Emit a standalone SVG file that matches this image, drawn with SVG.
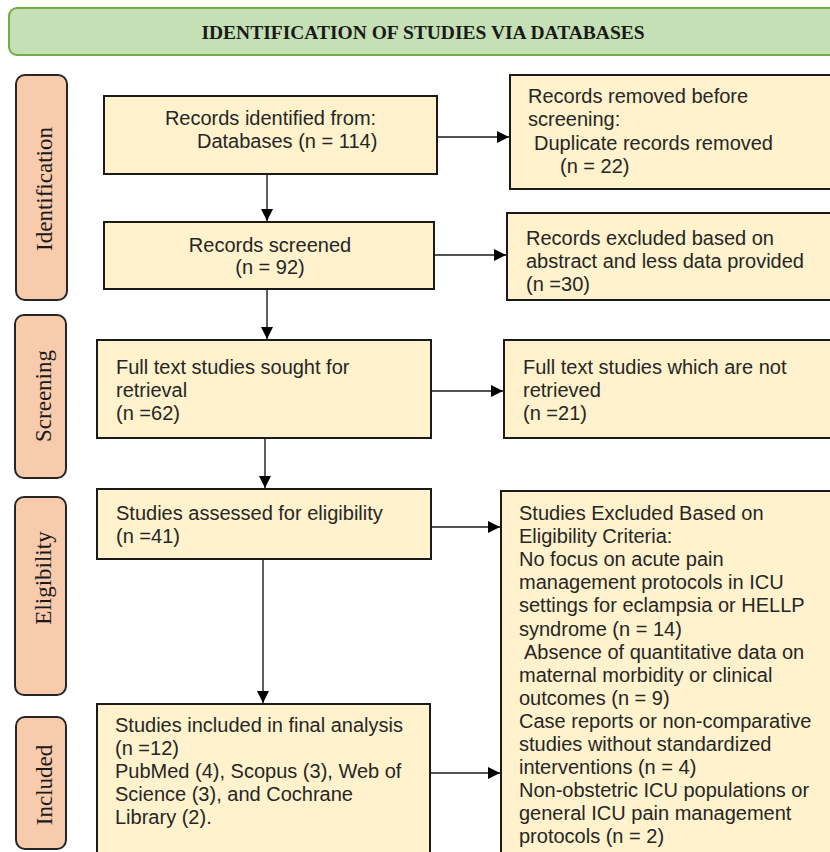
<svg xmlns="http://www.w3.org/2000/svg" width="830" height="852" viewBox="0 0 830 852">
<defs>
<marker id="ah" markerUnits="userSpaceOnUse" markerWidth="13" markerHeight="12" refX="12" refY="6" orient="auto">
<path d="M0,0 L12,6 L0,12 Z" fill="#000"/>
</marker>
<style>
.box{fill:#fff2cc;stroke:#1a1a1a;stroke-width:2}
.side{fill:#f8cbad;stroke:#262626;stroke-width:2}
.t{font-family:"Liberation Sans",Arial,sans-serif;font-size:20px;fill:#262626}
.s{font-family:"Liberation Serif","Times New Roman",serif;font-size:23px;fill:#1a1a1a;text-anchor:middle}
.c{stroke:#1a1a1a;stroke-width:1.4;fill:none;marker-end:url(#ah)}
</style>
</defs>
<rect width="830" height="852" fill="#ffffff"/>

<g id="header">
<rect x="9" y="8" width="840" height="47" rx="8" fill="#c5e0b4" stroke="#70ad47" stroke-width="2"/>
<text x="423" y="39" text-anchor="middle" font-family="Liberation Serif,'Times New Roman',serif" font-weight="bold" font-size="19.5" fill="#1a1a1a">IDENTIFICATION OF STUDIES VIA DATABASES</text>
</g>

<g id="side-identification">
<rect class="side" x="16" y="75" width="51" height="225" rx="9"/>
<text class="s" transform="translate(52,189) rotate(-90)">Identification</text>
</g>
<g id="side-screening">
<rect class="side" x="15" y="315" width="51" height="163" rx="9"/>
<text class="s" transform="translate(51,396) rotate(-90)">Screening</text>
</g>
<g id="side-eligibility">
<rect class="side" x="15" y="497" width="51" height="198" rx="9"/>
<text class="s" transform="translate(51,578) rotate(-90)">Eligibility</text>
</g>
<g id="side-included">
<rect class="side" x="16" y="717" width="50" height="132" rx="9"/>
<text class="s" transform="translate(52,785) rotate(-90)">Included</text>
</g>

<g id="n-identified">
<rect class="box" x="104" y="96" width="333" height="78"/>
<text class="t" x="270.5" y="125" text-anchor="middle">Records identified from:</text>
<text class="t" x="197" y="148">Databases (n = 114)</text>
</g>
<g id="n-screened">
<rect class="box" x="104" y="222" width="330" height="67"/>
<text class="t" x="270" y="252" text-anchor="middle">Records screened</text>
<text class="t" x="270" y="274" text-anchor="middle">(n = 92)</text>
</g>
<g id="n-sought">
<rect class="box" x="97" y="340" width="334" height="98"/>
<text class="t" x="116" y="374">Full text studies sought for</text>
<text class="t" x="116" y="397">retrieval</text>
<text class="t" x="116" y="420">(n =62)</text>
</g>
<g id="n-assessed">
<rect class="box" x="97" y="489" width="334" height="70"/>
<text class="t" x="116" y="520">Studies assessed for eligibility</text>
<text class="t" x="116" y="543">(n =41)</text>
</g>
<g id="n-included">
<rect class="box" x="97" y="704" width="333" height="160"/>
<text class="t" x="115" y="732">Studies included in final analysis</text>
<text class="t" x="115" y="755">(n =12)</text>
<text class="t" x="115" y="778">PubMed (4), Scopus (3), Web of</text>
<text class="t" x="115" y="801">Science (3), and Cochrane</text>
<text class="t" x="115" y="824">Library (2).</text>
</g>

<g id="n-removed">
<rect class="box" x="510" y="75" width="330" height="114"/>
<text class="t" x="528" y="103">Records removed before</text>
<text class="t" x="528" y="126">screening:</text>
<text class="t" x="534" y="150">Duplicate records removed</text>
<text class="t" x="560" y="173">(n = 22)</text>
</g>
<g id="n-excluded-abstract">
<rect class="box" x="507" y="213" width="333" height="87"/>
<text class="t" x="526" y="244.5">Records excluded based on</text>
<text class="t" x="526" y="267.5">abstract and less data provided</text>
<text class="t" x="526" y="290.5">(n =30)</text>
</g>
<g id="n-not-retrieved">
<rect class="box" x="504" y="340" width="336" height="98"/>
<text class="t" x="523" y="374">Full text studies which are not</text>
<text class="t" x="523" y="397">retrieved</text>
<text class="t" x="523" y="420">(n =21)</text>
</g>
<g id="n-excluded-eligibility">
<rect class="box" x="501" y="491" width="339" height="375"/>
<text class="t" x="519" y="520">Studies Excluded Based on</text>
<text class="t" x="519" y="543.1">Eligibility Criteria:</text>
<text class="t" x="519" y="566.2">No focus on acute pain</text>
<text class="t" x="519" y="589.3">management protocols in ICU</text>
<text class="t" x="519" y="612.4">settings for eclampsia or HELLP</text>
<text class="t" x="519" y="635.5">syndrome (n = 14)</text>
<text class="t" x="524" y="658.6">Absence of quantitative data on</text>
<text class="t" x="519" y="681.7">maternal morbidity or clinical</text>
<text class="t" x="519" y="704.8">outcomes (n = 9)</text>
<text class="t" x="519" y="727.9">Case reports or non-comparative</text>
<text class="t" x="519" y="751">studies without standardized</text>
<text class="t" x="519" y="774.1">interventions (n = 4)</text>
<text class="t" x="519" y="797.2">Non-obstetric ICU populations or</text>
<text class="t" x="519" y="820.3">general ICU pain management</text>
<text class="t" x="519" y="843.4">protocols (n = 2)</text>
</g>

<g id="connectors">
<line class="c" x1="267" y1="175" x2="267" y2="221"/>
<line class="c" x1="267" y1="290" x2="267" y2="339"/>
<line class="c" x1="265" y1="439" x2="265" y2="488"/>
<line class="c" x1="263" y1="560" x2="263" y2="703"/>
<line class="c" x1="438" y1="137" x2="509" y2="137"/>
<line class="c" x1="435" y1="255" x2="506" y2="255"/>
<line class="c" x1="432" y1="391" x2="503" y2="391"/>
<line class="c" x1="432" y1="527" x2="500" y2="527"/>
<line class="c" x1="431" y1="773" x2="500" y2="773"/>
</g>
</svg>
